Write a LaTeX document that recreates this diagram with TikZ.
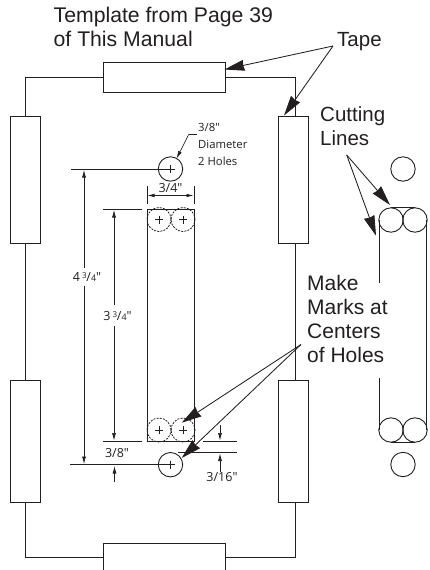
\documentclass[tikz,border=0pt]{standalone}
\usepackage{fontspec}
\setmainfont{Liberation Sans}
\newfontfamily\smallfont{Open Sans}
\usetikzlibrary{arrows.meta,calc}
\definecolor{ink}{HTML}{231F20}
\tikzset{
  x=1pt,y=-1pt,
  tplline/.style={draw=ink,line width=0.95pt},
  tape/.style={tplline,fill=white,inner sep=0,outer sep=0,rectangle},
  hole/.style={draw=ink,line width=0.9pt,circle,minimum size=24.4pt,inner sep=0,outer sep=0},
  marker/.style={draw=ink,line width=0.8pt,dash pattern=on 2pt off 1.2pt,circle,minimum size=24pt,inner sep=0,outer sep=0},
  dimline/.style={draw=ink,line width=0.65pt},
  dimarrow/.style={dimline,-{Latex[length=7.5pt,width=4pt]}},
  bigarrow/.style={draw=ink,line width=0.85pt,-{Stealth[length=20pt,width=11pt,inset=1pt]}},
  big/.style={font=\fontsize{21}{24}\selectfont,align=left,anchor=base west,inner sep=0,text=ink},
  smalltxt/.style={font=\smallfont\fontsize{11.3}{18}\selectfont,inner sep=0,anchor=base west,text=ink},
  lab/.style={font=\smallfont\fontsize{12.5}{14}\selectfont,inner sep=1pt,anchor=base,text=ink},
}
\newcommand{\plusmark}[1]{\draw[dimline] ($(#1)+(-4,0)$) -- ($(#1)+(4,0)$) ($(#1)+(0,-4)$) -- ($(#1)+(0,4)$);}
\newcommand{\frc}{{\raisebox{3pt}{\fontsize{8}{8}\selectfont 3}}\kern-0.2pt/{\fontsize{9}{9}\selectfont 4}"}
\begin{document}
\begin{tikzpicture}
\useasboundingbox (0,0) rectangle (429,570);
% template tapes and outline
\coordinate (blc) at (103,557.5);
\coordinate (brc) at (225.5,557.5);
\draw[tplline] (blc) -| (25,502);
\draw[tplline] (brc) -| (295,502);
\draw[tplline] (103,77) -| (25,116);
\draw[tplline] (225.5,77) -| (295,116);
\draw[tplline] (25,243) -- (25,380);
\draw[tplline] (295,243) -- (295,380);
\node[tape,minimum width=122.5pt,minimum height=29.5pt] (tt) at (164.25,77.5) {};
\node[tape,minimum width=30pt,minimum height=127pt] (tl1) at (25,179.5) {};
\node[tape,minimum width=30pt,minimum height=122pt] (tl2) at (25,441) {};
\node[tape,minimum width=30pt,minimum height=127pt] (tr1) at (293,179.5) {};
\node[tape,minimum width=30pt,minimum height=122pt] (tr2) at (293,441) {};
\node[tape,minimum width=122.5pt,minimum height=60pt] (tb) at (164.25,573) {};
% centre strip
\node[draw=ink,line width=0.95pt,rectangle,minimum width=47pt,minimum height=232pt,inner sep=0,outer sep=0] (strip) at (170.5,325) {};
\node[marker] (m1) at (159,219.5) {};
\node[marker] (m2) at (183,219.5) {};
\node[marker] (m3) at (159,430) {};
\node[marker] (m4) at (183,430) {};
\node[hole] (h1) at (170.5,169) {};
\node[hole] (h2) at (170.5,464.7) {};
\plusmark{m1}\plusmark{m2}\plusmark{m3}\plusmark{m4}\plusmark{h1}\plusmark{h2}
% dimension extension lines
\coordinate (e1) at (71,169);
\coordinate (e2a) at (103,209); \coordinate (e2b) at (142,209);
\coordinate (e3a) at (103,441); \coordinate (e3b) at (142,441);
\coordinate (e4) at (70,464.7);
\coordinate (e5a) at (203,441); \coordinate (e5b) at (237,441);
\coordinate (e6a) at (178,452.7); \coordinate (e6b) at (237,452.7);
\draw[dimline] (e1) -- (h1.center);
\draw[dimline] (e2a) -- (e2b);
\draw[dimline] (e3a) -- (e3b);
\draw[dimline] (e4) -- (h2.center);
\draw[dimline] (e5a) -- (e5b);
\draw[dimline] (e6a) -- (e6b);
% vertical dimensions
\node[lab] (d434) at (87,281) {4\,\frc};
\node[lab] (d334) at (117.5,320) {3\,\frc};
\coordinate (a1) at (84,170); \coordinate (a1b) at (84,464);
\coordinate (a2) at (114,210); \coordinate (a2b) at (114,440.5);
\draw[dimarrow] (84,268) -- (a1);
\draw[dimarrow] (84,286) -- (a1b);
\draw[dimarrow] (114,305) -- (a2);
\draw[dimarrow] (114,326) -- (a2b);
% 3/4
\coordinate (t1a) at (147,186); \coordinate (t1b) at (147,204);
\coordinate (t2a) at (194,186); \coordinate (t2b) at (194,204);
\draw[dimline] (t1a) -- (t1b);
\draw[dimline] (t2a) -- (t2b);
\draw[dimline,{Latex[length=7pt,width=3.6pt]}-{Latex[length=7pt,width=3.6pt]}] (147.5,195.5) -- (193.5,195.5);
\node[lab] (d34) at (170.5,192.5) {3/4"};
% 3/8 lower
\node[lab] (d38) at (117,457.5) {3/8"};
\coordinate (u1) at (114.5,482); \coordinate (u1t) at (114.5,466);
\draw[dimarrow] (u1) -- (u1t);
% 3/16
\coordinate (u2) at (220,425); \coordinate (u2t) at (220,440.5);
\draw[dimarrow] (u2) -- (u2t);
\coordinate (u3) at (220,472); \coordinate (u3t) at (220,453.5);
\draw[dimarrow] (u3) -- (u3t);
\node[lab] (d316) at (222,481.5) {3/16"};
% hole callout
\node[smalltxt] (dia1) at (198,131) {3/8"};
\node[smalltxt] (dia2) at (198,148.5) {Diameter};
\node[smalltxt] (dia3) at (198,165.5) {2 Holes};
\coordinate (lead) at (189,134);
\draw[dimline] (196.5,134) -- (lead);
\draw[dimarrow] (lead) -- (h1.60);
% right-hand strip
\coordinate (rs1) at (379.3,220); \coordinate (rs2) at (379.3,283);
\coordinate (rs3) at (379.3,378); \coordinate (rs4) at (379.3,430);
\coordinate (rs5) at (426.5,220); \coordinate (rs6) at (426.5,430);
\draw[tplline] (rs1) -- (rs2);
\draw[tplline] (rs3) -- (rs4);
\draw[tplline] (rs5) -- (rs6);
\node[hole] (c1) at (391,220) {};
\node[hole] (c2) at (415,220) {};
\node[hole] (c3) at (391,430) {};
\node[hole] (c4) at (415,430) {};
\draw[tplline] (c1.north) -- (c2.north);
\draw[tplline] (c3.south) -- (c4.south);
\node[hole] (c5) at (403,169) {};
\node[hole] (c6) at (403,464.5) {};
% labels
\node[big,font=\fontsize{21.2}{24}\selectfont] (ttl) at (53.5,46.5) {Template from Page 39\\of This Manual};
\node[big,font=\fontsize{20.5}{24}\selectfont] (tape) at (337,46.5) {Tape};
\node[big,font=\fontsize{20.5}{23.5}\selectfont] (cut) at (320,145) {Cutting\\Lines};
\node[big] (mk) at (307,362.5) {Make\\Marks at\\Centers\\of Holes};
% callout arrows
\coordinate (ta) at (333,46);
\coordinate (ca) at (346.7,155);
\coordinate (mka) at (301,344.5);
\draw[bigarrow] (ta) -- (224.5,69.5);
\draw[bigarrow] (ta) -- (284,115.5);
\draw[bigarrow] (ca) -- (390,205);
\draw[bigarrow] (ca) -- (376,235.7);
\draw[bigarrow] (mka) -- (181.7,422.7);
\draw[bigarrow] (mka) -- (181.7,458);
\end{tikzpicture}
\end{document}
